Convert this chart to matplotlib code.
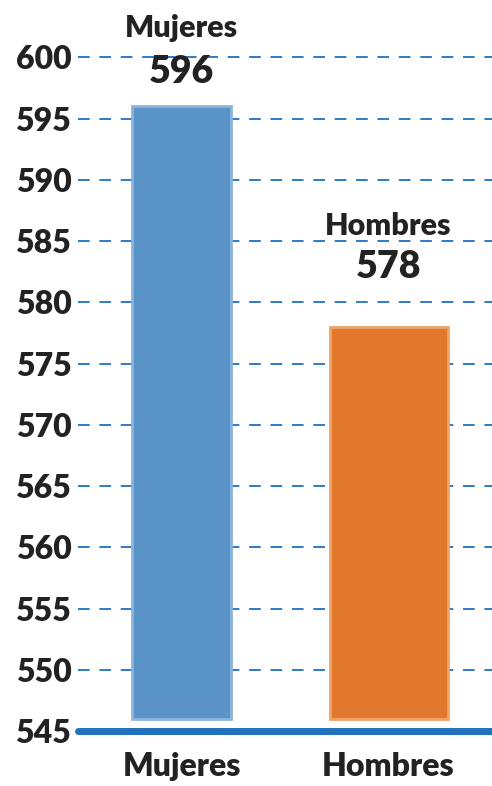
import matplotlib
matplotlib.use("Agg")
import matplotlib.pyplot as plt

categories = ["Mujeres", "Hombres"]
values = [596, 578]
colors = ["#5A93C8", "#E2782C"]
edge_colors = ["#8DB4DC", "#F0A468"]
y_ticks = [545, 550, 555, 560, 565, 570, 575, 580, 585, 590, 595, 600]

plt.rcParams["font.family"] = ["Lato", "DejaVu Sans"]

fig = plt.figure(figsize=(4.92, 7.86), dpi=100)
ax = fig.add_axes([0.159, 0.070, 0.841, 0.857])

x = [0, 1]
widths = [0.48, 0.57]
ax.bar(x, [v - 546 for v in values], bottom=546, width=widths,
       color=colors, edgecolor=edge_colors, linewidth=2, zorder=3)

ax.set_xlim(-0.5, 1.5)
ax.set_ylim(545, 600)
ax.set_yticks(y_ticks)
ax.set_yticklabels([str(t) for t in y_ticks], fontsize=23, fontweight="heavy", color="#222222")
ax.set_xticks(x)
ax.set_xticklabels(categories, fontsize=23, fontweight="heavy", color="#222222")
ax.tick_params(axis="both", length=0)
ax.tick_params(axis="y", pad=5)
ax.tick_params(axis="x", pad=15)

for t in y_ticks[1:]:
    ax.axhline(t, color="#2E7BC4", linewidth=1.4, linestyle=(0, (6, 5)),
               zorder=1, clip_on=False)

for s in ["left", "right", "top"]:
    ax.spines[s].set_visible(False)
ax.spines["bottom"].set_color("#1F72BB")
ax.spines["bottom"].set_linewidth(5)
ax.spines["bottom"].set_capstyle("round")

name_offsets = [6.4, 8.2]
value_offsets = [2.8, 4.9]
for xi, v, name, no, vo in zip(x, values, categories, name_offsets, value_offsets):
    ax.text(xi, v + no, name, ha="center", va="center", fontsize=22,
            fontweight="heavy", color="#222222", clip_on=False, zorder=5)
    ax.text(xi, v + vo, str(v), ha="center", va="center", fontsize=27,
            fontweight="heavy", color="#222222", clip_on=False, zorder=5)

fig.savefig("out.png", dpi=100)
